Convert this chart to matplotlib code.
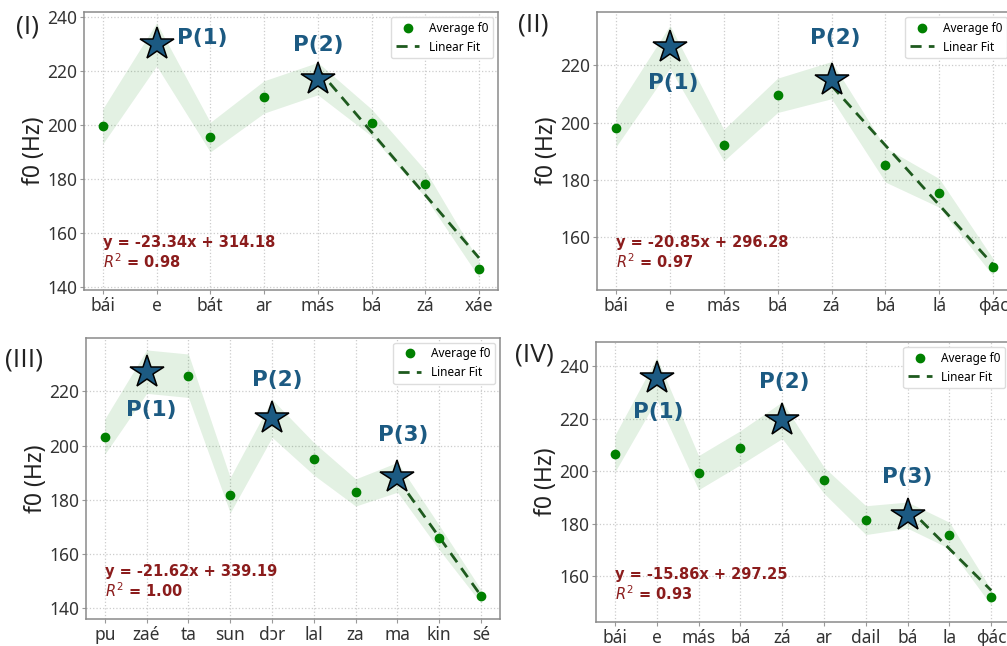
import numpy as np
import matplotlib
matplotlib.use("Agg")
import matplotlib.pyplot as plt

plt.rcParams['font.family'] = ['Noto Sans', 'DejaVu Sans']

# syllables on the x axis of each panel
labels_1 = ['bái', 'e', 'bát', 'ar', 'más', 'bá', 'zá', 'xáe']
labels_2 = ['bái', 'e', 'más', 'bá', 'zá', 'bá', 'lá', 'ɸác']
labels_3 = ['pu', 'zaé', 'ta', 'sun', 'dɔr', 'lal', 'za', 'ma', 'kin', 'sé']
labels_4 = ['bái', 'e', 'más', 'bá', 'zá', 'ar', 'dail', 'bá', 'la', 'ɸác']

# average f0 (Hz) per syllable
f0_1 = [199.6, 230.0, 195.6, 210.5, 217.3, 201.0, 178.3, 146.6]
f0_2 = [198.0, 226.4, 192.1, 209.5, 214.8, 185.2, 175.4, 149.4]
f0_3 = [203.3, 227.2, 225.7, 181.7, 210.0, 195.1, 182.7, 188.3, 166.1, 144.4]
f0_4 = [206.7, 235.3, 199.4, 208.9, 219.4, 196.5, 181.3, 183.2, 175.5, 151.9]

# spread around the mean (Hz)
sd_1 = [6.5, 8.0, 5.5, 6.0, 6.0, 5.0, 5.0, 3.0]
sd_2 = [6.5, 7.5, 5.5, 6.0, 6.5, 6.0, 5.0, 3.0]
sd_3 = [6.5, 8.0, 8.0, 6.5, 7.0, 6.0, 5.0, 5.5, 4.5, 2.5]
sd_4 = [7.0, 8.0, 6.5, 6.5, 7.0, 5.0, 5.5, 5.0, 5.0, 3.0]

# prominence peaks P(n)
peaks_1 = [1, 4]
peaks_2 = [1, 4]
peaks_3 = [1, 4, 7]
peaks_4 = [1, 4, 7]

# linear fit of the final fall: slope, intercept, R^2, first index
fit_1 = (-23.34, 314.18, 0.98, 4)
fit_2 = (-20.85, 296.28, 0.97, 4)
fit_3 = (-21.62, 339.19, 1.00, 7)
fit_4 = (-15.86, 297.25, 0.93, 7)

panels = [
    dict(name='(I)', labels=labels_1, f0=f0_1, sd=sd_1, peaks=peaks_1, fit=fit_1,
         rect=[0.0834, 0.551, 0.411, 0.430], ylim=(138.9, 241.9),
         yticks=[140, 160, 180, 200, 220, 240], tag=(0.016, 0.958),
         offs=[(46, 6), (0, 34)]),
    dict(name='(II)', labels=labels_2, f0=f0_2, sd=sd_2, peaks=peaks_2, fit=fit_2,
         rect=[0.593, 0.551, 0.412, 0.430], ylim=(141.5, 238.5),
         yticks=[160, 180, 200, 220], tag=(0.514, 0.962),
         offs=[(3, -36), (4, 42)]),
    dict(name='(III)', labels=labels_3, f0=f0_3, sd=sd_3, peaks=peaks_3, fit=fit_3,
         rect=[0.0854, 0.0418, 0.411, 0.435], ylim=(136.1, 239.6),
         yticks=[140, 160, 180, 200, 220], tag=(0.005, 0.443),
         offs=[(5, -38), (5, 38), (6, 42)]),
    dict(name='(IV)', labels=labels_4, f0=f0_4, sd=sd_4, peaks=peaks_4, fit=fit_4,
         rect=[0.592, 0.0372, 0.411, 0.433], ylim=(142.5, 249.1),
         yticks=[160, 180, 200, 220, 240], tag=(0.511, 0.450),
         offs=[(1, -34), (2, 38), (0, 38)]),
]

star_color = '#1c5a82'
fig = plt.figure(figsize=(10.07, 6.46), dpi=100)

for p in panels:
    ax = fig.add_axes(p['rect'])
    x = np.arange(len(p['labels']))
    y = np.array(p['f0'])
    sd = np.array(p['sd'])

    ax.fill_between(x, y - sd, y + sd, color='green', alpha=0.11, lw=0, zorder=1)
    ax.plot(x, y, 'o', color='green', ms=6, label='Average f0', zorder=4, ls='none')

    m, b, r2, i0 = p['fit']
    xf = x[i0:]
    ax.plot(xf, m * xf + b, '--', color='#1e5a1e', lw=2.0, dashes=(4, 2.6),
            label='Linear Fit', zorder=3)

    for k, idx in enumerate(p['peaks']):
        ax.plot(x[idx], y[idx], '*', ms=25, color=star_color, mec='black',
                mew=1.1, zorder=5)
        ax.annotate(f'P({k + 1})', (x[idx], y[idx]), xytext=p['offs'][k],
                    textcoords='offset pixels', ha='center', va='center',
                    fontsize=15.5, fontweight='bold', color=star_color,
                    family='DejaVu Sans', zorder=6)

    ax.text(0.045, 0.132, f'y = {m:.2f}x + {b:.2f}\n$R^2$ = {r2:.2f}',
            transform=ax.transAxes, ha='left', va='center', fontsize=10.5,
            fontweight='bold', color='#8b1c1c', family='DejaVu Sans',
            linespacing=1.15, zorder=6)

    ax.set_xlim(-0.05 * (len(x) - 1), (len(x) - 1) * 1.05)
    ax.set_ylim(*p['ylim'])
    ax.set_xticks(x)
    ax.set_xticklabels(p['labels'])
    ax.set_yticks(p['yticks'])
    ax.tick_params(labelsize=12.5, colors='#333333', length=3, color='#999999',
                   pad=2)
    ax.set_ylabel('f0 (Hz)', fontsize=16.5, color='#222222', labelpad=1)
    ax.grid(True, ls=':', color='#cccccc', lw=0.9)
    ax.set_axisbelow(True)
    for s in ax.spines.values():
        s.set_color('#8a8a8a')
        s.set_linewidth(1.1)

    ax.legend(loc='upper right', fontsize=8.5, frameon=True, edgecolor='#dddddd',
              handlelength=2.0, borderaxespad=0.4, framealpha=1)

    fig.text(p['tag'][0], p['tag'][1], p['name'], fontsize=19, ha='left',
             va='center', color='#222222', family=['Open Sans', 'DejaVu Sans'])

fig.savefig('out.png', dpi=100)
